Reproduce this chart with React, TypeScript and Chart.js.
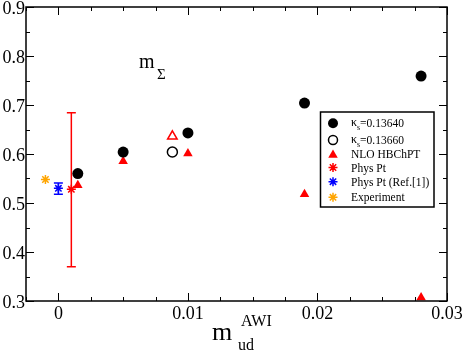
import React, { useEffect, useRef } from "react";
import { Chart, registerables } from "chart.js";

Chart.register(...registerables);

// ---- data ----
const kappa1X = [0.0015, 0.005, 0.01, 0.019, 0.028];
const kappa1Y = [0.56, 0.604, 0.643, 0.704, 0.759];
const kappa2X = [0.0088];
const kappa2Y = [0.604];
const nloX = [0.0015, 0.005, 0.01, 0.019, 0.028];
const nloY = [0.536, 0.585, 0.601, 0.518, 0.307];
const nloOpenX = [0.0088];
const nloOpenY = [0.636];
const physPtX = [0.001];
const physPtY = [0.528];
const physPtLo = [0.37];
const physPtHi = [0.684];
const physRefX = [0];
const physRefY = [0.53];
const physRefLo = [0.518];
const physRefHi = [0.541];
const expX = [-0.001];
const expY = [0.548];

const xMajor = [0, 0.01, 0.02, 0.03];
const xMajorLabels = ["0", "0.01", "0.02", "0.03"];
const xMinor = [-0.0025, 0.0025, 0.005, 0.0075, 0.0125, 0.015, 0.0175, 0.0225, 0.025, 0.0275];
const yMajor = [0.3, 0.4, 0.5, 0.6, 0.7, 0.8, 0.9];
const yMajorLabels = ["0.3", "0.4", "0.5", "0.6", "0.7", "0.8", "0.9"];
const yMinor = [0.35, 0.45, 0.55, 0.65, 0.75, 0.85];

const legendLabels = ["NLO HBChPT", "Phys Pt", "Phys Pt (Ref.[1])", "Experiment"];

const RED = "#ff0000";
const BLUE = "#0000ff";
const ORANGE = "#ffa500";
const SERIF = "'Liberation Serif', 'Times New Roman', serif";

const pts = (xs: number[], ys: number[]) => xs.map((x, i) => ({ x, y: ys[i] }));

function drawStar(ctx: CanvasRenderingContext2D, x: number, y: number, r: number, color: string) {
  ctx.save();
  ctx.strokeStyle = color;
  ctx.lineWidth = 1.5;
  ctx.beginPath();
  for (let k = 0; k < 4; k++) {
    const a = (k * Math.PI) / 4;
    ctx.moveTo(x - Math.cos(a) * r, y - Math.sin(a) * r);
    ctx.lineTo(x + Math.cos(a) * r, y + Math.sin(a) * r);
  }
  ctx.stroke();
  ctx.restore();
}

const overlayPlugin = {
  id: "overlay",
  beforeDatasetsDraw(chart: any) {
    const ctx: CanvasRenderingContext2D = chart.ctx;
    const xs = chart.scales.x;
    const ys = chart.scales.y;
    const bar = (x: number, lo: number, hi: number, color: string) => {
      const px = xs.getPixelForValue(x);
      const pl = ys.getPixelForValue(lo);
      const ph = ys.getPixelForValue(hi);
      ctx.save();
      ctx.strokeStyle = color;
      ctx.lineWidth = 1.5;
      ctx.beginPath();
      ctx.moveTo(px, pl);
      ctx.lineTo(px, ph);
      ctx.moveTo(px - 4.5, pl);
      ctx.lineTo(px + 4.5, pl);
      ctx.moveTo(px - 4.5, ph);
      ctx.lineTo(px + 4.5, ph);
      ctx.stroke();
      ctx.restore();
    };
    physPtX.forEach((x, i) => bar(x, physPtLo[i], physPtHi[i], RED));
    physRefX.forEach((x, i) => bar(x, physRefLo[i], physRefHi[i], BLUE));
  },
  afterDraw(chart: any) {
    const ctx: CanvasRenderingContext2D = chart.ctx;
    const xs = chart.scales.x;
    const ys = chart.scales.y;
    const a = chart.chartArea;
    ctx.save();
    // frame
    ctx.strokeStyle = "#000";
    ctx.lineWidth = 1.5;
    ctx.strokeRect(a.left, a.top, a.right - a.left, a.bottom - a.top);
    // ticks
    ctx.lineWidth = 1;
    ctx.beginPath();
    const xt = (v: number, len: number) => {
      const p = Math.round(xs.getPixelForValue(v)) + 0.5;
      ctx.moveTo(p, a.bottom);
      ctx.lineTo(p, a.bottom - len);
      ctx.moveTo(p, a.top);
      ctx.lineTo(p, a.top + len);
    };
    const yt = (v: number, len: number) => {
      const p = Math.round(ys.getPixelForValue(v)) + 0.5;
      ctx.moveTo(a.left, p);
      ctx.lineTo(a.left + len, p);
      ctx.moveTo(a.right, p);
      ctx.lineTo(a.right - len, p);
    };
    xMajor.forEach((v) => xt(v, 8));
    xMinor.forEach((v) => xt(v, 4));
    yMajor.forEach((v) => yt(v, 8));
    yMinor.forEach((v) => yt(v, 4));
    ctx.stroke();
    // tick labels
    ctx.fillStyle = "#000";
    ctx.font = `18px ${SERIF}`;
    ctx.textBaseline = "alphabetic";
    ctx.textAlign = "center";
    xMajor.forEach((v, i) => ctx.fillText(xMajorLabels[i], xs.getPixelForValue(v), a.bottom + 18));
    ctx.textAlign = "right";
    yMajor.forEach((v, i) => ctx.fillText(yMajorLabels[i], a.left - 1, ys.getPixelForValue(v) + 6.5));
    // axis title  m_ud^AWI
    ctx.textAlign = "left";
    ctx.font = `26px ${SERIF}`;
    ctx.fillText("m", 212, 340);
    ctx.font = `16px ${SERIF}`;
    ctx.fillText("ud", 238, 350);
    ctx.fillText("AWI", 241, 326);
    // annotation m_Sigma
    ctx.font = `20px ${SERIF}`;
    ctx.fillText("m", 139, 68);
    ctx.font = `15px ${SERIF}`;
    ctx.fillText("Σ", 157, 79);
    // legend
    const lx = 320.5, ly = 112, lw = 113.5, lh = 95;
    ctx.fillStyle = "#fff";
    ctx.fillRect(lx, ly, lw, lh);
    ctx.strokeStyle = "#000";
    ctx.lineWidth = 1.5;
    ctx.strokeRect(lx, ly, lw, lh);
    const sx = 333;
    const tx = 351;
    const rows = [123.3, 140, 154, 167.5, 181.7, 197.3];
    // symbols
    ctx.fillStyle = "#000";
    ctx.beginPath();
    ctx.arc(sx, rows[0], 5, 0, Math.PI * 2);
    ctx.fill();
    ctx.beginPath();
    ctx.lineWidth = 1.5;
    ctx.arc(sx, rows[1], 4.5, 0, Math.PI * 2);
    ctx.stroke();
    ctx.fillStyle = RED;
    ctx.beginPath();
    const r = 5.5;
    for (let k = 0; k < 3; k++) {
      const ang = (k * 2 * Math.PI) / 3;
      const px = sx + Math.sin(ang) * r;
      const py = rows[2] + 1 - Math.cos(ang) * r;
      if (k === 0) ctx.moveTo(px, py);
      else ctx.lineTo(px, py);
    }
    ctx.closePath();
    ctx.fill();
    drawStar(ctx, sx, rows[3], 4.5, RED);
    drawStar(ctx, sx, rows[4], 4.5, BLUE);
    drawStar(ctx, sx, rows[5], 4.5, ORANGE);
    // texts
    ctx.fillStyle = "#000";
    ctx.textAlign = "left";
    const kappaRow = (y: number, val: string) => {
      ctx.font = `12px ${SERIF}`;
      ctx.fillText("κ", tx, y + 3);
      const w = ctx.measureText("κ").width;
      ctx.font = `8px ${SERIF}`;
      ctx.fillText("s", tx + w, y + 7);
      ctx.font = `11.5px ${SERIF}`;
      ctx.fillText(val, tx + w + 3, y + 3.5);
    };
    kappaRow(rows[0], "=0.13640");
    kappaRow(rows[1], "=0.13660");
    ctx.font = `11.5px ${SERIF}`;
    legendLabels.forEach((t, i) => ctx.fillText(t, tx, rows[i + 2] + 4));
    ctx.restore();
  },
};

export default function App() {
  const ref = useRef<HTMLCanvasElement | null>(null);
  useEffect(() => {
    document.body.style.margin = "0";
    const canvas = ref.current;
    if (!canvas) return;
    const chart = new Chart(canvas, {
      type: "scatter",
      data: {
        datasets: [
          {
            label: "k1",
            data: pts(kappa1X, kappa1Y),
            pointStyle: "circle",
            pointRadius: 5.5,
            backgroundColor: "#000",
            borderColor: "#000",
            borderWidth: 0,
          },
          {
            label: "k2",
            data: pts(kappa2X, kappa2Y),
            pointStyle: "circle",
            pointRadius: 5,
            backgroundColor: "#fff",
            borderColor: "#000",
            borderWidth: 1.5,
          },
          {
            label: "nlo",
            data: pts(nloX, nloY),
            pointStyle: "triangle",
            pointRadius: 5.5,
            backgroundColor: RED,
            borderColor: RED,
            borderWidth: 0,
          },
          {
            label: "nloOpen",
            data: pts(nloOpenX, nloOpenY),
            pointStyle: "triangle",
            pointRadius: 5.5,
            backgroundColor: "#fff",
            borderColor: RED,
            borderWidth: 1.5,
          },
          {
            label: "phys",
            data: pts(physPtX, physPtY),
            pointStyle: "star",
            pointRadius: 4.5,
            backgroundColor: RED,
            borderColor: RED,
            borderWidth: 1.5,
          },
          {
            label: "physRef",
            data: pts(physRefX, physRefY),
            pointStyle: "star",
            pointRadius: 4.5,
            backgroundColor: BLUE,
            borderColor: BLUE,
            borderWidth: 1.5,
          },
          {
            label: "exp",
            data: pts(expX, expY),
            pointStyle: "star",
            pointRadius: 4.5,
            backgroundColor: ORANGE,
            borderColor: ORANGE,
            borderWidth: 1.5,
          },
        ],
      },
      options: {
        responsive: false,
        animation: false,
        events: [],
        layout: { padding: { left: 26, right: 16, top: 6, bottom: 52 } },
        plugins: { legend: { display: false }, tooltip: { enabled: false } },
        scales: {
          x: { type: "linear", display: false, min: -0.0025, max: 0.03 },
          y: { type: "linear", display: false, min: 0.3, max: 0.9 },
        },
      },
      plugins: [overlayPlugin],
    } as any);
    return () => chart.destroy();
  }, []);
  return <canvas ref={ref} width={463} height={353} style={{ display: "block" }} />;
}
